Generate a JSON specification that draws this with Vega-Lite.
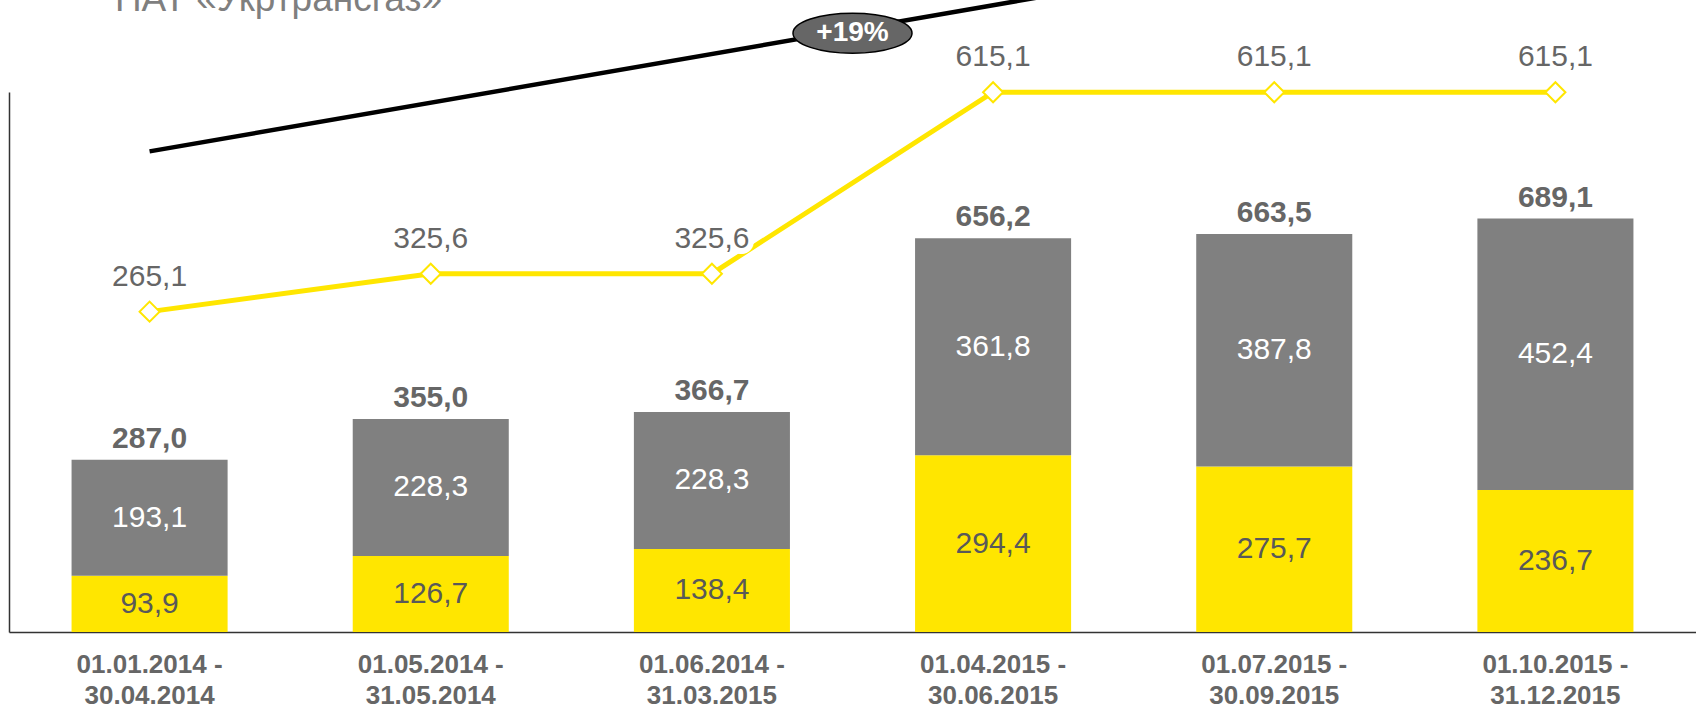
{
  "$schema": "https://vega.github.io/schema/vega-lite/v6.json",
  "width": 1687,
  "height": 540,
  "autosize": "none",
  "padding": {"left": 9, "top": 92, "right": 0, "bottom": 77},
  "background": "white",
  "config": {
    "view": {"stroke": null},
    "font": "Liberation Sans",
    "locale": {"number": {"decimal": ",", "thousands": " ", "grouping": [3], "currency": ["", ""]}}
  },
  "datasets": {
    "periods": [
      {"period": "01.01.2014 - 30.04.2014", "yellow": 93.9, "grey": 193.1, "total": 287.0, "line": 265.1},
      {"period": "01.05.2014 - 31.05.2014", "yellow": 126.7, "grey": 228.3, "total": 355.0, "line": 325.6},
      {"period": "01.06.2014 - 31.03.2015", "yellow": 138.4, "grey": 228.3, "total": 366.7, "line": 325.6},
      {"period": "01.04.2015 - 30.06.2015", "yellow": 294.4, "grey": 361.8, "total": 656.2, "line": 615.1},
      {"period": "01.07.2015 - 30.09.2015", "yellow": 275.7, "grey": 387.8, "total": 663.5, "line": 615.1},
      {"period": "01.10.2015 - 31.12.2015", "yellow": 236.7, "grey": 452.4, "total": 689.1, "line": 615.1}
    ],
    "trend": [
      {"pos": 0.5, "v": 801},
      {"pos": 3.8, "v": 1069}
    ],
    "badge": [
      {"pos": 3.0, "v": 998, "label": "+19%"}
    ],
    "heading": [
      {"pos": 0.377, "v": 1035, "label": "ПАТ «Укртрансгаз»"}
    ]
  },
  "resolve": {"scale": {"x": "independent", "y": "independent"}},
  "layer": [
    {
      "data": {"name": "periods"},
      "mark": {"type": "bar", "color": "#FFE600"},
      "encoding": {
        "x": {
          "field": "period", "type": "nominal", "sort": null,
          "scale": {"paddingInner": 0.445, "paddingOuter": 0.2225},
          "axis": {
            "title": null,
            "labelExpr": "[substring(datum.label, 0, 12), substring(datum.label, 13)]",
            "labelAngle": 0,
            "labelFontSize": 26,
            "labelFontWeight": "bold",
            "labelColor": "#666666",
            "labelFont": "Liberation Sans",
            "labelLineHeight": 31.5,
            "labelPadding": 19,
            "labelBaseline": "top",
            "labelOverlap": false,
            "ticks": false,
            "domainColor": "#333333",
            "domainWidth": 1.5
          }
        },
        "y": {
          "field": "yellow", "type": "quantitative",
          "scale": {"domain": [0, 900], "nice": false},
          "axis": {"title": null, "labels": false, "ticks": false, "grid": false, "domain": true, "domainColor": "#333333", "domainWidth": 1.5}
        }
      }
    },
    {
      "data": {"name": "periods"},
      "mark": {"type": "bar", "color": "#808080"},
      "encoding": {
        "x": {"field": "period", "type": "nominal", "sort": null, "scale": {"paddingInner": 0.445, "paddingOuter": 0.2225}, "axis": null},
        "y": {"field": "yellow", "type": "quantitative", "scale": {"domain": [0, 900], "nice": false}, "axis": null},
        "y2": {"field": "total"}
      }
    },
    {
      "data": {"name": "periods"},
      "mark": {"type": "text", "fontSize": 30, "color": "#595959", "baseline": "middle", "font": "Liberation Sans"},
      "encoding": {
        "x": {"field": "period", "type": "nominal", "sort": null, "scale": {"type": "point", "padding": 0.5}, "axis": null},
        "y": {"field": "yellow", "type": "quantitative", "scale": {"domain": [0, 1800], "nice": false}, "axis": null},
        "text": {"field": "yellow", "type": "quantitative", "format": ".1f"}
      }
    },
    {
      "data": {"name": "periods"},
      "transform": [{"fold": ["yellow", "total"], "as": ["k", "v"]}],
      "mark": {"type": "text", "fontSize": 30, "color": "white", "baseline": "middle", "font": "Liberation Sans"},
      "encoding": {
        "x": {"field": "period", "type": "nominal", "sort": null, "scale": {"type": "point", "padding": 0.5}, "axis": null},
        "y": {"aggregate": "mean", "field": "v", "type": "quantitative", "scale": {"domain": [0, 900], "nice": false}, "axis": null},
        "text": {"aggregate": "max", "field": "grey", "type": "quantitative", "format": ".1f"}
      }
    },
    {
      "data": {"name": "periods"},
      "mark": {"type": "text", "fontSize": 30, "fontWeight": "bold", "color": "#666666", "baseline": "alphabetic", "dy": -12, "font": "Liberation Sans"},
      "encoding": {
        "x": {"field": "period", "type": "nominal", "sort": null, "scale": {"type": "point", "padding": 0.5}, "axis": null},
        "y": {"field": "total", "type": "quantitative", "scale": {"domain": [0, 900], "nice": false}, "axis": null},
        "text": {"field": "total", "type": "quantitative", "format": ".1f"}
      }
    },
    {
      "data": {"name": "periods"},
      "mark": {"type": "line", "color": "#FFE600", "strokeWidth": 5},
      "encoding": {
        "x": {"field": "period", "type": "nominal", "sort": null, "scale": {"type": "point", "padding": 0.5}, "axis": null},
        "y": {"field": "line", "type": "quantitative", "scale": {"domain": [-246, 615.5], "nice": false, "zero": false}, "axis": null}
      }
    },
    {
      "data": {"name": "periods"},
      "mark": {"type": "text", "fontSize": 30, "color": "white", "stroke": "white", "strokeWidth": 12, "strokeJoin": "round", "baseline": "alphabetic", "dy": -26, "font": "Liberation Sans"},
      "encoding": {
        "x": {"field": "period", "type": "nominal", "sort": null, "scale": {"type": "point", "padding": 0.5}, "axis": null},
        "y": {"field": "line", "type": "quantitative", "scale": {"domain": [-246, 615.5], "nice": false, "zero": false}, "axis": null},
        "text": {"field": "line", "type": "quantitative", "format": ".1f"}
      }
    },
    {
      "data": {"name": "periods"},
      "mark": {"type": "text", "fontSize": 30, "color": "#666666", "baseline": "alphabetic", "dy": -26, "font": "Liberation Sans"},
      "encoding": {
        "x": {"field": "period", "type": "nominal", "sort": null, "scale": {"type": "point", "padding": 0.5}, "axis": null},
        "y": {"field": "line", "type": "quantitative", "scale": {"domain": [-246, 615.5], "nice": false, "zero": false}, "axis": null},
        "text": {"field": "line", "type": "quantitative", "format": ".1f"}
      }
    },
    {
      "data": {"name": "periods"},
      "mark": {"type": "point", "shape": "diamond", "filled": true, "fill": "white", "stroke": "#FFE600", "strokeWidth": 2, "size": 400, "opacity": 1},
      "encoding": {
        "x": {"field": "period", "type": "nominal", "sort": null, "scale": {"type": "point", "padding": 0.5}, "axis": null},
        "y": {"field": "line", "type": "quantitative", "scale": {"domain": [-246, 615.5], "nice": false, "zero": false}, "axis": null}
      }
    },
    {
      "data": {"name": "trend"},
      "mark": {"type": "line", "color": "black", "strokeWidth": 4.5, "clip": false},
      "encoding": {
        "x": {"field": "pos", "type": "quantitative", "scale": {"domain": [0, 6], "nice": false, "zero": false}, "axis": null},
        "y": {"field": "v", "type": "quantitative", "scale": {"domain": [0, 900], "nice": false}, "axis": null}
      }
    },
    {
      "data": {"name": "badge"},
      "mark": {"type": "point", "shape": "M -1 0 A 1 0.336 0 1 1 1 0 A 1 0.336 0 1 1 -1 0 Z", "filled": true, "fill": "#666666", "stroke": "black", "strokeWidth": 1.5, "size": 14161, "opacity": 1, "clip": false},
      "encoding": {
        "x": {"field": "pos", "type": "quantitative", "scale": {"domain": [0, 6], "nice": false, "zero": false}, "axis": null},
        "y": {"field": "v", "type": "quantitative", "scale": {"domain": [0, 900], "nice": false}, "axis": null}
      }
    },
    {
      "data": {"name": "badge"},
      "mark": {"type": "text", "fontSize": 28, "fontWeight": "bold", "color": "white", "baseline": "middle", "font": "Liberation Sans", "clip": false},
      "encoding": {
        "x": {"field": "pos", "type": "quantitative", "scale": {"domain": [0, 6], "nice": false, "zero": false}, "axis": null},
        "y": {"field": "v", "type": "quantitative", "scale": {"domain": [0, 900], "nice": false}, "axis": null},
        "text": {"field": "label"}
      }
    },
    {
      "data": {"name": "heading"},
      "mark": {"type": "text", "fontSize": 37, "color": "#7f7f7f", "align": "left", "baseline": "alphabetic", "font": "Liberation Sans", "clip": false},
      "encoding": {
        "x": {"field": "pos", "type": "quantitative", "scale": {"domain": [0, 6], "nice": false, "zero": false}, "axis": null},
        "y": {"field": "v", "type": "quantitative", "scale": {"domain": [0, 900], "nice": false}, "axis": null},
        "text": {"field": "label"}
      }
    }
  ]
}
